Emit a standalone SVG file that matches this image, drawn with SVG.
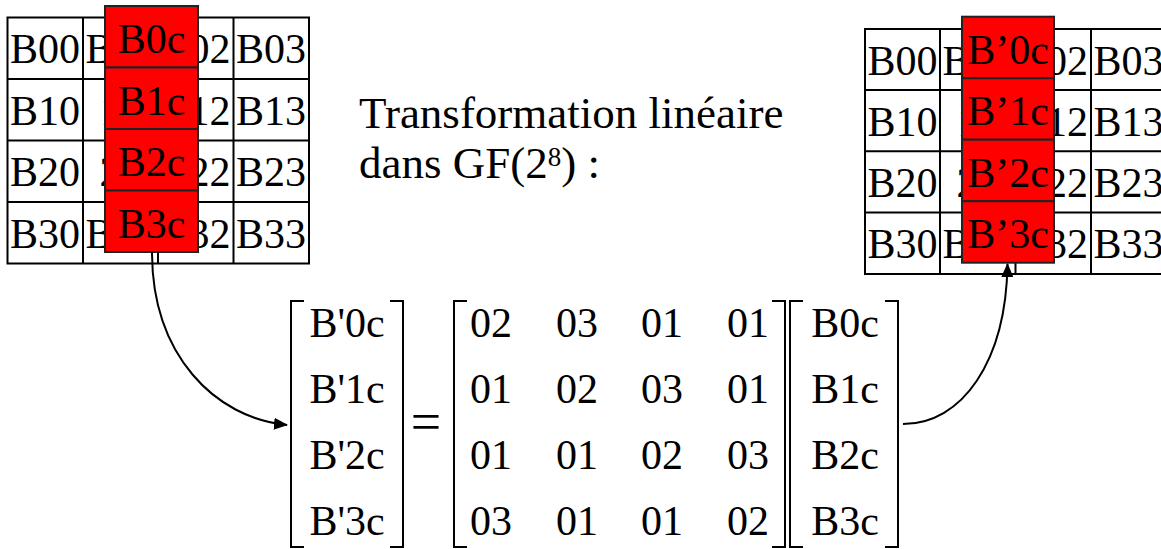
<svg xmlns="http://www.w3.org/2000/svg" width="1161" height="549" viewBox="0 0 1161 549" font-family="'Liberation Serif', 'Times New Roman', serif">
<defs>
<style>
text{font-family:'Liberation Serif','Times New Roman',serif;fill:#000;}
.c{font-size:42px;text-anchor:middle;}
.grid{fill:#fff;stroke:#000;stroke-width:2;}
.red{fill:#ff0000;stroke:#222;stroke-width:2;}
.br{fill:none;stroke:#000;stroke-width:2;}
.conn{fill:none;stroke:#000;stroke-width:2;}
</style>
<marker id="ah" markerUnits="userSpaceOnUse" markerWidth="14" markerHeight="12" refX="13" refY="6" orient="auto">
<path d="M0,0 L14,6 L0,12 z" fill="#000"/>
</marker>
</defs>
<rect width="1161" height="549" fill="#fff"/>

<g id="grid-left">
<rect class="grid" x="7.5" y="17.5" width="301.5" height="246"/>
<path class="grid" d="M83,17.5V263.5M158,17.5V263.5M233.5,17.5V263.5M7.5,79H309M7.5,140.5H309M7.5,202H309"/>
<g class="c">
<text x="45" y="63">B00</text><text x="120.5" y="63">B01</text><text x="195.5" y="63">B02</text><text x="271" y="63">B03</text>
<text x="45" y="124.5">B10</text><text x="120.5" y="124.5">11</text><text x="195.5" y="124.5">B12</text><text x="271" y="124.5">B13</text>
<text x="45" y="186">B20</text><text x="120.5" y="186">21</text><text x="195.5" y="186">B22</text><text x="271" y="186">B23</text>
<text x="45" y="247.5">B30</text><text x="120.5" y="247.5">B31</text><text x="195.5" y="247.5">B32</text><text x="271" y="247.5">B33</text>
</g>
</g>

<g id="col-left">
<rect class="red" x="105" y="6" width="93" height="61.5"/>
<rect class="red" x="105" y="67.5" width="93" height="61.5"/>
<rect class="red" x="105" y="129" width="93" height="61.5"/>
<rect class="red" x="105" y="190.5" width="93" height="61.5"/>
<g class="c">
<text x="151.5" y="53">B0c</text>
<text x="151.5" y="114.5">B1c</text>
<text x="151.5" y="176">B2c</text>
<text x="151.5" y="237.5">B3c</text>
</g>
</g>

<g id="grid-right">
<rect class="grid" x="865" y="29" width="301" height="245"/>
<path class="grid" d="M940,29V274M1015.5,29V274M1091,29V274M865,90H1166M865,151.3H1166M865,212.6H1166"/>
<g class="c">
<text x="902.5" y="74.5">B00</text><text x="977.5" y="74.5">B01</text><text x="1053" y="74.5">B02</text><text x="1128.5" y="74.5">B03</text>
<text x="902.5" y="135.5">B10</text><text x="977.5" y="135.5">11</text><text x="1053" y="135.5">B12</text><text x="1128.5" y="135.5">B13</text>
<text x="902.5" y="196.8">B20</text><text x="977.5" y="196.8">21</text><text x="1053" y="196.8">B22</text><text x="1128.5" y="196.8">B23</text>
<text x="902.5" y="258">B30</text><text x="977.5" y="258">B31</text><text x="1053" y="258">B32</text><text x="1128.5" y="258">B33</text>
</g>
</g>

<g id="col-right">
<rect class="red" x="962" y="16.7" width="92" height="61.5"/>
<rect class="red" x="962" y="78.2" width="92" height="61.5"/>
<rect class="red" x="962" y="139.7" width="92" height="61.5"/>
<rect class="red" x="962" y="201.2" width="92" height="61.5"/>
<g class="c">
<text x="1008" y="63.7">B’0c</text>
<text x="1008" y="125.2">B’1c</text>
<text x="1008" y="186.7">B’2c</text>
<text x="1008" y="248.2">B’3c</text>
</g>
</g>

<g id="title" font-size="45">
<text x="359" y="128" font-size="45">Transformation linéaire</text>
<text x="359" y="178" font-size="45">dans GF(2<tspan font-size="27" dy="-12">8</tspan><tspan dy="12">) :</tspan></text>
</g>

<g id="vec-out">
<path class="br" d="M304,301H291V547H304M390,301H403V547H390"/>
<g class="c">
<text x="347" y="337">B'0c</text>
<text x="347" y="403">B'1c</text>
<text x="347" y="469">B'2c</text>
<text x="347" y="535">B'3c</text>
</g>
</g>

<g id="equals">
<text x="426" y="440" font-size="54" text-anchor="middle">=</text>
</g>

<g id="matrix">
<path class="br" d="M467,301H454V547H467M772,301H785V547H772"/>
<g class="c">
<text x="491" y="337">02</text><text x="577" y="337">03</text><text x="662" y="337">01</text><text x="748" y="337">01</text>
<text x="491" y="403">01</text><text x="577" y="403">02</text><text x="662" y="403">03</text><text x="748" y="403">01</text>
<text x="491" y="469">01</text><text x="577" y="469">01</text><text x="662" y="469">02</text><text x="748" y="469">03</text>
<text x="491" y="535">03</text><text x="577" y="535">01</text><text x="662" y="535">01</text><text x="748" y="535">02</text>
</g>
</g>

<g id="vec-in">
<path class="br" d="M803,301H790V547H803M885,301H898V547H885"/>
<g class="c">
<text x="845" y="337">B0c</text>
<text x="845" y="403">B1c</text>
<text x="845" y="469">B2c</text>
<text x="845" y="535">B3c</text>
</g>
</g>

<g id="connectors">
<path class="conn" d="M152,252 C152,355 215,418 287,425" marker-end="url(#ah)"/>
<path class="conn" d="M903,424 C962,424 1006,362 1007.5,264" marker-end="url(#ah)"/>
</g>
</svg>
